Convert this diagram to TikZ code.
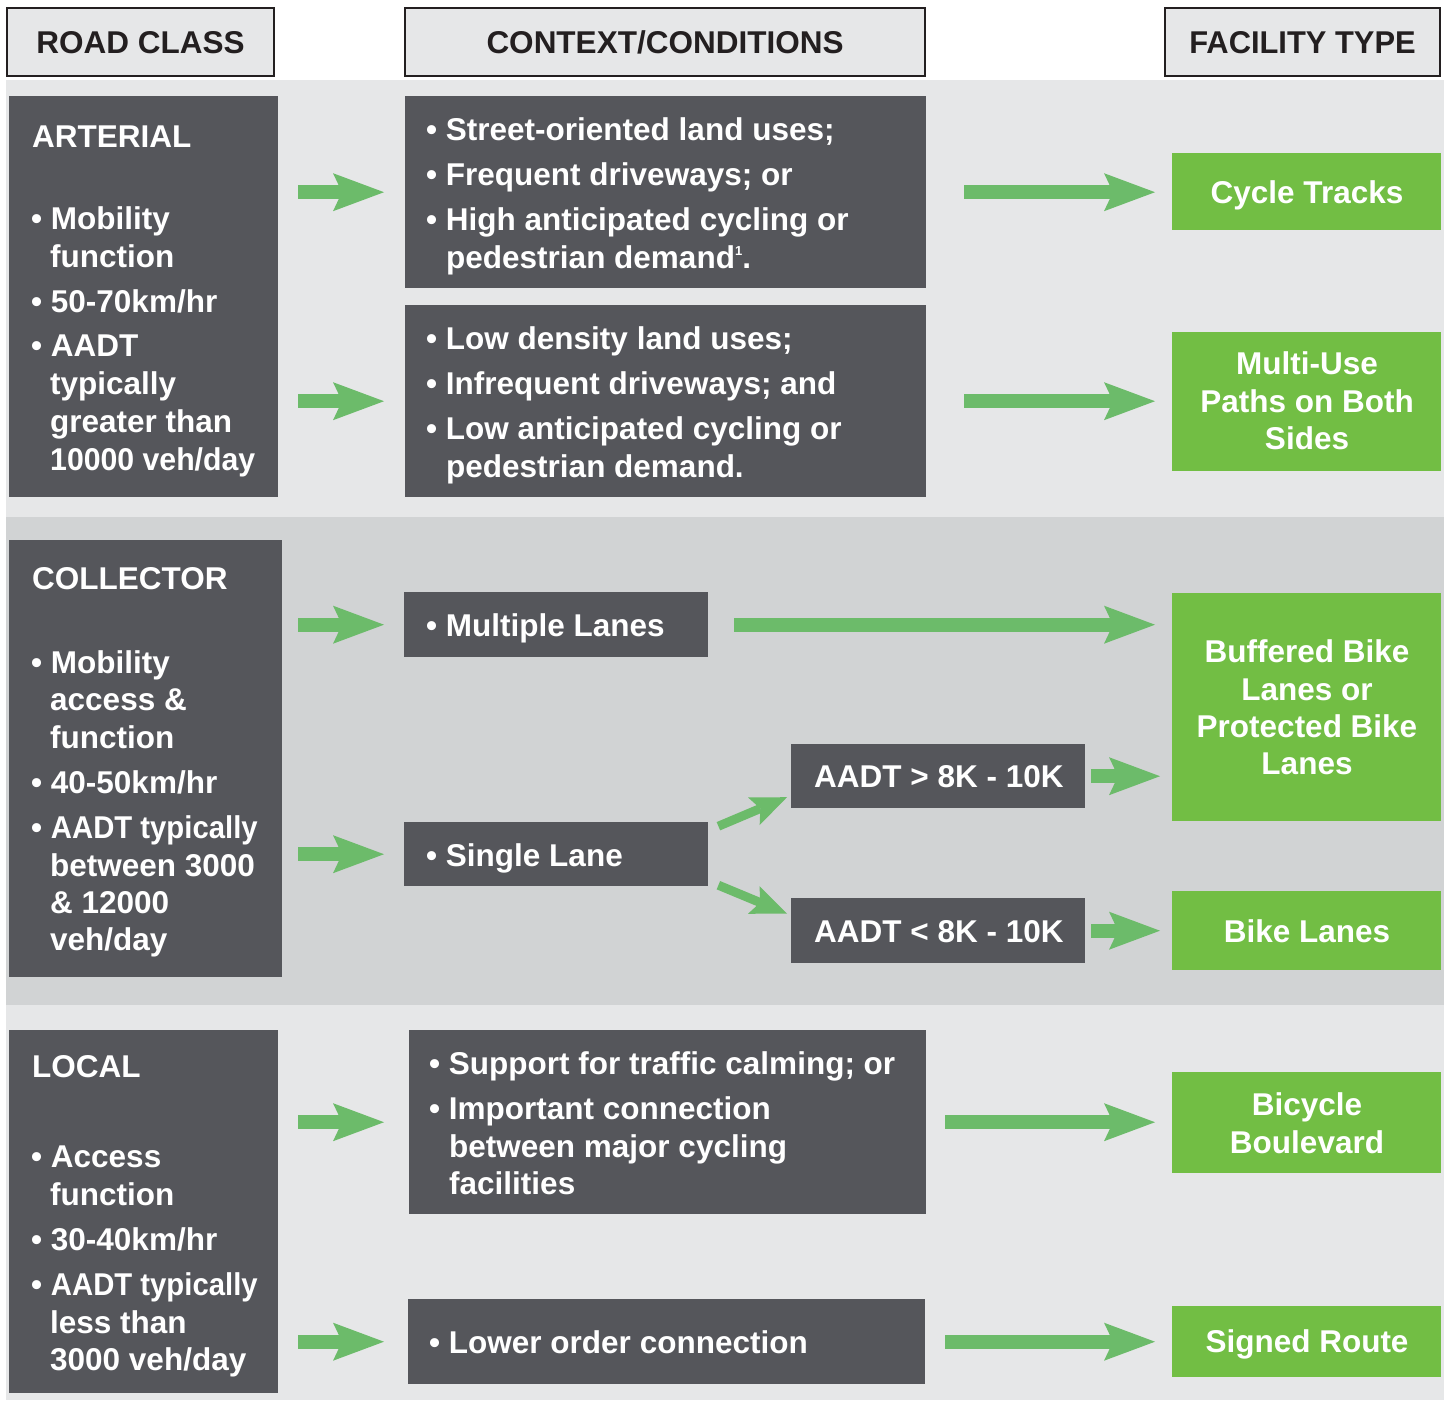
\documentclass[tikz,border=0pt]{standalone}
\usepackage{fontspec}
\setmainfont{Liberation Sans}
\usetikzlibrary{arrows.meta,calc}
\definecolor{bandA}{RGB}{230,231,232}
\definecolor{bandB}{RGB}{209,211,212}
\definecolor{boxdark}{RGB}{85,86,91}
\definecolor{fgreen}{RGB}{114,190,68}
\definecolor{agreen}{RGB}{108,187,106}
\definecolor{hdrline}{RGB}{35,31,32}
\newcounter{lnc}
\newcommand{\tl}[3]{\stepcounter{lnc}\node[txt] (ln\thelnc) at (#1,#2) {#3};}
\newcommand{\tc}[3]{\stepcounter{lnc}\node[txtc] (ln\thelnc) at (#1,#2) {#3};}
\newcommand{\sqz}[2]{\scalebox{#1}[1]{#2}}
\newcommand{\supone}{\raisebox{13pt}{\fontsize{13}{13}\selectfont 1}}
\begin{document}
\begin{tikzpicture}[x=1pt,y=-1pt,
  font=\fontsize{31.5}{38}\selectfont\bfseries,
  hdr/.style={draw=hdrline, line width=2.5pt, fill=bandA, inner sep=0pt, text=hdrline, text depth=0pt},
  dbox/.style={fill=boxdark, inner sep=0pt, anchor=north west},
  gbox/.style={fill=fgreen, inner sep=0pt, anchor=north west},
  txt/.style={text=white, anchor=base west, inner sep=0pt},
  txtc/.style={text=white, anchor=base, inner sep=0pt},
  garrow/.style={draw=agreen, line width=14pt, -{Stealth[length=51pt,width=38pt,inset=9pt,line width=0pt]}},
  garrowsm/.style={draw=agreen, line width=9pt, -{Stealth[length=36pt,width=30pt,inset=7pt,line width=0pt]}}]
\useasboundingbox (0,0) rectangle (1445,1401);
% bands
\fill[bandA] (6,80) rectangle (1444,517);
\fill[bandB] (6,517) rectangle (1444,1005);
\fill[bandA] (6,1005) rectangle (1444,1400);
% headers
\node[hdr, minimum width=267pt, minimum height=68pt] (h1) at (140.5,42) {ROAD CLASS};
\node[hdr, minimum width=520pt, minimum height=68pt] (h2) at (665,42) {CONTEXT/CONDITIONS};
\node[hdr, minimum width=275pt, minimum height=68pt] (h3) at (1302.5,42) {\sqz{0.98}{FACILITY TYPE}};
% arterial band
\node[dbox, minimum width=269pt, minimum height=401pt] (art) at (9,96) {};
\node[dbox, minimum width=521pt, minimum height=192pt] (ctx1) at (405,96) {};
\node[dbox, minimum width=521pt, minimum height=192pt] (ctx2) at (405,305) {};
\node[gbox, minimum width=269pt, minimum height=77pt] (ct) at (1172,153) {};
\node[gbox, minimum width=269pt, minimum height=139pt] (mu) at (1172,332) {};
% collector band
\node[dbox, minimum width=273pt, minimum height=437pt] (col) at (9,540) {};
\node[dbox, minimum width=304pt, minimum height=65pt] (ml) at (404,592) {};
\node[dbox, minimum width=304pt, minimum height=64pt] (sl) at (404,822) {};
\node[dbox, minimum width=294pt, minimum height=64pt] (gt) at (791,744) {};
\node[dbox, minimum width=294pt, minimum height=65pt] (lt) at (791,898) {};
\node[gbox, minimum width=269pt, minimum height=228pt] (buf) at (1172,593) {};
\node[gbox, minimum width=269pt, minimum height=79pt] (bl) at (1172,891) {};
% local band
\node[dbox, minimum width=269pt, minimum height=363pt] (loc) at (9,1030) {};
\node[dbox, minimum width=517pt, minimum height=184pt] (sup) at (409,1030) {};
\node[dbox, minimum width=517pt, minimum height=85pt] (low) at (408,1299) {};
\node[gbox, minimum width=269pt, minimum height=101pt] (bb) at (1172,1072) {};
\node[gbox, minimum width=269pt, minimum height=71pt] (sr) at (1172,1306) {};
% texts: arterial
\tl{32}{147}{ARTERIAL}
\tl{31}{229}{• Mobility}
\tl{50}{267}{function}
\tl{31}{312}{• 50-70km/hr}
\tl{31}{356}{• AADT}
\tl{50}{394}{typically}
\tl{50}{432}{greater than}
\tl{50}{470}{\sqz{0.96}{10000 veh/day}}
\tl{426}{140}{• Street-oriented land uses;}
\tl{426}{185}{• Frequent driveways; or}
\tl{426}{230}{• High anticipated cycling or}
\tl{446}{268}{pedestrian demand\supone.}
\tl{426}{349}{• Low density land uses;}
\tl{426}{394}{• Infrequent driveways; and}
\tl{426}{439}{• Low anticipated cycling or}
\tl{446}{477}{pedestrian demand.}
\tc{1307}{203}{Cycle Tracks}
\tc{1307}{374}{Multi-Use}
\tc{1307}{412}{Paths on Both}
\tc{1307}{449}{Sides}
% texts: collector
\tl{32}{589}{COLLECTOR}
\tl{31}{673}{• Mobility}
\tl{50}{710}{access \&}
\tl{50}{748}{function}
\tl{31}{793}{• 40-50km/hr}
\tl{31}{838}{• \sqz{0.93}{AADT typically}}
\tl{50}{876}{between 3000}
\tl{50}{913}{\& 12000}
\tl{50}{950}{veh/day}
\tl{426}{636}{• Multiple Lanes}
\tl{426}{866}{• Single Lane}
\tl{814}{787}{AADT > 8K - 10K}
\tl{814}{942}{AADT < 8K - 10K}
\tc{1307}{662}{Buffered Bike}
\tc{1307}{700}{Lanes or}
\tc{1307}{737}{Protected Bike}
\tc{1307}{774}{Lanes}
\tc{1307}{942}{Bike Lanes}
% texts: local
\tl{32}{1077}{LOCAL}
\tl{31}{1167}{• Access}
\tl{50}{1205}{function}
\tl{31}{1250}{• 30-40km/hr}
\tl{31}{1295}{• \sqz{0.93}{AADT typically}}
\tl{50}{1333}{less than}
\tl{50}{1370}{3000 veh/day}
\tl{429}{1074}{• Support for traffic calming; or}
\tl{429}{1119}{• Important connection}
\tl{449}{1157}{between major cycling}
\tl{449}{1194}{facilities}
\tl{429}{1353}{• Lower order connection}
\tc{1307}{1115}{Bicycle}
\tc{1307}{1153}{Boulevard}
\tc{1307}{1352}{Signed Route}
% arrows
\draw[garrow] ($(art.east |- ctx1.west)+(20,0)$) -- ($(ctx1.west)+(-21,0)$);
\draw[garrow] ($(art.east |- ctx2.west)+(20,0)$) -- ($(ctx2.west)+(-21,0)$);
\draw[garrow] ($(ctx1.east)+(38,0)$) -- ($(ctx1.east -| ct.west)+(-17,0)$);
\draw[garrow] ($(ctx2.east)+(38,0)$) -- ($(ctx2.east -| mu.west)+(-17,0)$);
\draw[garrow] ($(col.east |- ml.west)+(16,0)$) -- ($(ml.west)+(-20,0)$);
\draw[garrow] ($(col.east |- sl.west)+(16,0)$) -- ($(sl.west)+(-20,0)$);
\draw[garrow] ($(ml.east)+(26,0)$) -- ($(ml.east -| buf.west)+(-17,0)$);
\draw[garrowsm] ($(sl.east)+(10,-28)$) -- ($(gt.west)+(-4,21)$);
\draw[garrowsm] ($(sl.east)+(10,31)$) -- ($(lt.west)+(-4,-17)$);
\draw[garrow] ($(gt.east)+(6,0)$) -- ($(gt.east -| buf.west)+(-12,0)$);
\draw[garrow] ($(lt.east)+(6,0)$) -- ($(lt.east -| bl.west)+(-12,0)$);
\draw[garrow] ($(loc.east |- sup.west)+(20,0)$) -- ($(sup.west)+(-25,0)$);
\draw[garrow] ($(loc.east |- low.west)+(20,0)$) -- ($(low.west)+(-24,0)$);
\draw[garrow] ($(sup.east)+(19,0)$) -- ($(sup.east -| bb.west)+(-17,0)$);
\draw[garrow] ($(low.east)+(20,0)$) -- ($(low.east -| sr.west)+(-17,0)$);
\end{tikzpicture}
\end{document}
